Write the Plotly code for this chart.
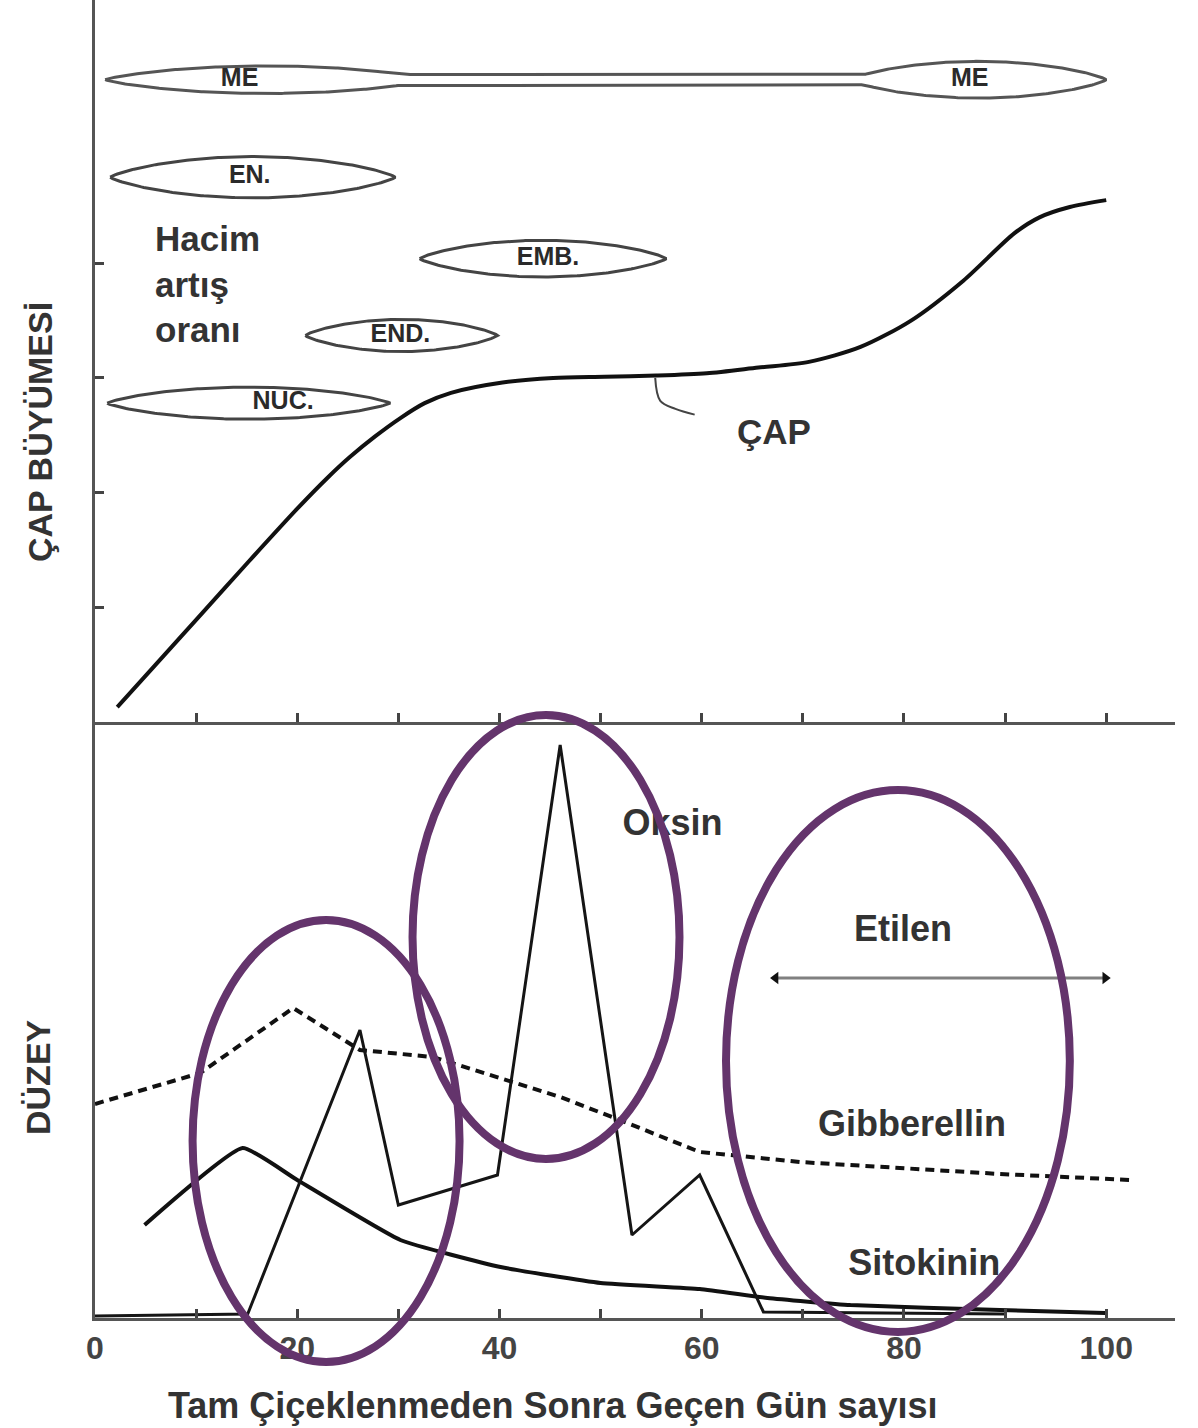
import numpy as np
import plotly.graph_objects as go

# ---------------- data ----------------
# Top panel: diameter growth (ÇAP)
cap_days = [2.2, 6, 10.4, 15, 20, 23, 25.2, 27.7, 30.2, 32.6, 35.2, 40.3, 45.3, 50.4, 55.5,
            60.5, 65.6, 70.6, 75.7, 80.7, 85.9, 90.9, 93.4, 96.4, 100]
cap_growth = [0.13, 0.50, 0.93, 1.38, 1.86, 2.13, 2.31, 2.49, 2.65, 2.78, 2.87, 2.96, 3.00, 3.01, 3.02,
              3.04, 3.09, 3.14, 3.27, 3.50, 3.85, 4.26, 4.40, 4.49, 4.55]
cap_tickvals = [1, 2, 3, 4]
cap_leader_days = [55.4, 55.9, 57.4, 59.3]
cap_leader_levels = [3.0, 2.80, 2.73, 2.68]

# Tissue growth-rate phases (lens bars)
phase_labels = ["EN.", "EMB.", "END.", "NUC."]
phase_start = [1.5, 32.1, 20.8, 1.2]
phase_end = [29.7, 56.5, 39.8, 29.2]
phase_level = [4.75, 4.04, 3.37, 2.78]
phase_rate = [0.18, 0.16, 0.14, 0.14]
phase_label_day = [15.3, 44.8, 30.2, 18.6]

me_label = "ME"
me_level = 5.60
me_band = 0.045
me_bulge_start = [1.0, 74.7]
me_bulge_end = [33.0, 100.0]
me_bulge_rate = [0.12, 0.16]
me_label_day = [14.3, 86.5]

# Bottom panel: hormone levels (DÜZEY)
oksin_days = [0, 15.1, 26.2, 30.0, 39.8, 46.0, 53.1, 59.8, 66.1, 80, 90]
oksin_levels = [0.02, 0.04, 2.88, 1.13, 1.43, 5.73, 0.83, 1.43, 0.06, 0.05, 0.04]

gib_days = [0, 10.4, 19.6, 26.2, 33.4, 40.1, 46.0, 51.9, 59.8, 69.7, 79.6, 89.5, 102.4]
gib_levels = [2.14, 2.45, 3.10, 2.68, 2.61, 2.40, 2.21, 1.98, 1.66, 1.56, 1.50, 1.44, 1.38]

sito_days = [4.9, 14.6, 20.0, 30.2, 40.1, 50.0, 59.8, 66.5, 74.7, 89.5, 99.9]
sito_levels = [0.93, 1.70, 1.38, 0.78, 0.51, 0.35, 0.29, 0.20, 0.13, 0.08, 0.05]

etilen_days = [67.3, 99.9]
etilen_level = [3.40, 3.40]

x_tickvals = list(range(0, 101, 10))
x_ticktext = ["0", "", "20", "", "40", "", "60", "", "80", "", "100"]

# highlight ellipses (centre day, centre level, half-width days, half-height levels)
hl_day = [22.85, 44.6, 79.4]
hl_level = [1.77, 3.81, 2.57]
hl_rx = [13.2, 13.2, 17.0]
hl_ry = [2.21, 2.22, 2.71]

# ---------------- layout constants ----------------
X_MAX = 106.8
TOP_MAX = 6.295
BOT_MAX = 5.96
SPLIT = 596 / 1318
FONT = "Liberation Sans, Arial, sans-serif"
TXT = "#333333"
PURPLE = "#64346c"


def lens_half(d, s, e, h, p=0.8):
    t = (d - (s + e) / 2) / ((e - s) / 2)
    inside = np.abs(t) <= 1
    return np.where(inside, h * np.clip(1 - t ** 2, 0, None) ** p, 0.0)


def outline(d, level, half):
    xs = np.concatenate([d, d[::-1], d[:1]])
    ys = np.concatenate([level + half, (level - half)[::-1], [level + half[0]]])
    return xs, ys


fig = go.Figure()

# ---- top panel ----
d = np.linspace(me_bulge_start[0], me_bulge_end[1], 500)
half = np.maximum(lens_half(d, me_bulge_start[0], me_bulge_end[0], me_bulge_rate[0]),
                  lens_half(d, me_bulge_start[1], me_bulge_end[1], me_bulge_rate[1]))
c1 = (me_bulge_start[0] + me_bulge_end[0]) / 2
c2 = (me_bulge_start[1] + me_bulge_end[1]) / 2
half = np.where((d >= c1) & (d <= c2), np.maximum(half, me_band), half)
xs, ys = outline(d, me_level, half)
fig.add_trace(go.Scatter(x=xs, y=ys, mode="lines", line=dict(color="#555555", width=3),
                         xaxis="x2", yaxis="y2", hoverinfo="skip", showlegend=False))

for s, e, lv, h in zip(phase_start, phase_end, phase_level, phase_rate):
    d = np.linspace(s, e, 120)
    xs, ys = outline(d, lv, lens_half(d, s, e, h))
    fig.add_trace(go.Scatter(x=xs, y=ys, mode="lines", line=dict(color="#444444", width=3),
                             xaxis="x2", yaxis="y2", hoverinfo="skip", showlegend=False))

fig.add_trace(go.Scatter(x=me_label_day + phase_label_day,
                         y=[me_level] * len(me_label_day) + phase_level,
                         text=[me_label] * len(me_label_day) + phase_labels,
                         mode="text", textfont=dict(family=FONT, size=25, color="#2a2a2a", weight="bold"),
                         xaxis="x2", yaxis="y2", hoverinfo="skip", showlegend=False))

fig.add_trace(go.Scatter(x=cap_days, y=cap_growth, mode="lines",
                         line=dict(color="#111111", width=4, shape="spline", smoothing=0.8),
                         xaxis="x2", yaxis="y2", showlegend=False))
fig.add_trace(go.Scatter(x=cap_leader_days, y=cap_leader_levels, mode="lines",
                         line=dict(color="#444444", width=2, shape="spline"),
                         xaxis="x2", yaxis="y2", hoverinfo="skip", showlegend=False))

# ---- bottom panel ----
fig.add_trace(go.Scatter(x=gib_days, y=gib_levels, mode="lines",
                         line=dict(color="#111111", width=4, dash="9px,6px"),
                         xaxis="x", yaxis="y", showlegend=False))
fig.add_trace(go.Scatter(x=sito_days, y=sito_levels, mode="lines",
                         line=dict(color="#111111", width=4, shape="spline", smoothing=0.4),
                         xaxis="x", yaxis="y", showlegend=False))
fig.add_trace(go.Scatter(x=oksin_days, y=oksin_levels, mode="lines",
                         line=dict(color="#151515", width=3),
                         xaxis="x", yaxis="y", showlegend=False))
fig.add_trace(go.Scatter(x=etilen_days, y=etilen_level, mode="lines+markers",
                         line=dict(color="#808080", width=3),
                         marker=dict(symbol=["triangle-left", "triangle-right"], size=11, color="#111111"),
                         xaxis="x", yaxis="y", showlegend=False))

label_font = dict(family=FONT, size=36, color=TXT, weight="bold")
fig.add_trace(go.Scatter(x=[57.1, 79.9, 80.8, 82.0], y=[4.92, 3.86, 1.91, 0.52],
                         text=["Oksin", "Etilen", "Gibberellin", "Sitokinin"],
                         mode="text", textfont=label_font,
                         xaxis="x", yaxis="y", hoverinfo="skip", showlegend=False))

# ---- highlight ellipses ----
shapes = []
for cx, cy, rx, ry in zip(hl_day, hl_level, hl_rx, hl_ry):
    shapes.append(dict(type="circle", xref="paper", yref="paper",
                       x0=(cx - rx) / X_MAX, x1=(cx + rx) / X_MAX,
                       y0=(cy - ry) / BOT_MAX * SPLIT, y1=(cy + ry) / BOT_MAX * SPLIT,
                       line=dict(color=PURPLE, width=8)))

title_font = dict(family=FONT, size=34, color=TXT, weight="bold")
annotations = [
    dict(text="Hacim<br>artış<br>oranı", x=5.7, y=3.82, xref="x2", yref="y2",
         xanchor="left", yanchor="middle", align="left", showarrow=False,
         font=dict(family=FONT, size=35, color=TXT, weight="bold")),
    dict(text="ÇAP", x=67.1, y=2.53, xref="x2", yref="y2", xanchor="center", yanchor="middle",
         showarrow=False, font=dict(family=FONT, size=35, color=TXT, weight="bold")),
    dict(text="ÇAP BÜYÜMESİ", x=(40 - 95) / 1080, y=(1318 - 432) / 1318, xref="paper", yref="paper",
         xanchor="center", yanchor="middle", textangle=-90, showarrow=False, font=title_font),
    dict(text="DÜZEY", x=(38 - 95) / 1080, y=(1318 - 1077) / 1318, xref="paper", yref="paper",
         xanchor="center", yanchor="middle", textangle=-90, showarrow=False, font=title_font),
    dict(text="Tam Çiçeklenmeden Sonra Geçen Gün sayısı", x=(553 - 95) / 1080, y=(1318 - 1405) / 1318,
         xref="paper", yref="paper", xanchor="center", yanchor="middle", showarrow=False,
         font=dict(family=FONT, size=36, color=TXT, weight="bold")),
]

axis_common = dict(showgrid=False, zeroline=False, showline=True, linecolor="#555555", linewidth=3,
                   tickcolor="#444444", tickwidth=2.5, ticklen=9)

fig.update_layout(
    width=1198, height=1428,
    margin=dict(l=95, r=23, t=0, b=110),
    paper_bgcolor="white", plot_bgcolor="white",
    showlegend=False,
    xaxis=dict(domain=[0, 1], anchor="y", range=[0, X_MAX], tickvals=x_tickvals, ticktext=x_ticktext,
               ticks="inside", tickfont=dict(family=FONT, size=32, color="#444444", weight="bold"),
               **axis_common),
    yaxis=dict(domain=[0, SPLIT], anchor="x", range=[0, BOT_MAX], showticklabels=False, ticks="",
               **axis_common),
    xaxis2=dict(domain=[0, 1], anchor="y2", range=[0, X_MAX], matches="x", tickvals=x_tickvals,
                showticklabels=False, ticks="inside", **axis_common),
    yaxis2=dict(domain=[SPLIT, 1], anchor="x2", range=[0, TOP_MAX], tickvals=cap_tickvals,
                showticklabels=False, ticks="inside", **axis_common),
    shapes=shapes,
    annotations=annotations,
)

fig.write_html("out.html", config={"displayModeBar": False},
               post_script="document.body.style.margin='0';")
